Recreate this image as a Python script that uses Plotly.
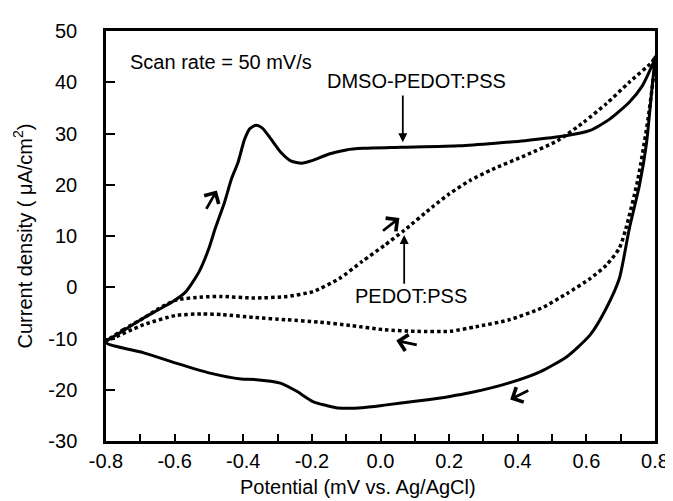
import plotly.graph_objects as go

# DMSO-PEDOT:PSS (solid) : anodic sweep then cathodic sweep
dmso_x = [-0.8, -0.75, -0.69, -0.65, -0.605, -0.567, -0.529, -0.50, -0.482, -0.455, -0.434,
          -0.415, -0.396, -0.38, -0.363, -0.345, -0.32, -0.29, -0.26, -0.23, -0.20, -0.15,
          -0.10, -0.05, 0.06, 0.231, 0.335, 0.421, 0.544, 0.611, 0.668, 0.725, 0.763, 0.796, 0.8,
          0.79, 0.775, 0.755, 0.725, 0.696, 0.658, 0.611, 0.544, 0.468, 0.373, 0.26, 0.202,
          0.107, 0.012, -0.054, -0.10, -0.13, -0.197, -0.244, -0.292, -0.368, -0.406, -0.5,
          -0.596, -0.69, -0.8]
dmso_y = [-10.8, -8.5, -6.0, -4.5, -2.8, -0.85, 3.0, 7.6, 11.4, 16.5, 21.2,
          24.4, 28.9, 31.0, 31.6, 31.1, 29.0, 26.3, 24.6, 24.2, 24.7, 26.0,
          26.8, 27.1, 27.3, 27.6, 28.1, 28.6, 29.6, 30.6, 32.8, 36.1, 39.3, 44.0, 45.0,
          38.0, 28.0, 20.0, 11.4, 1.7, -4.1, -9.3, -13.5, -16.4, -18.7, -20.6, -21.3,
          -22.2, -23.0, -23.5, -23.6, -23.5, -22.3, -20.3, -18.7, -18.0, -17.9, -16.7,
          -14.8, -12.8, -10.8]

# PEDOT:PSS (dotted)
pedot_x = [-0.8, -0.75, -0.69, -0.65, -0.596, -0.52, -0.463, -0.368, -0.273, -0.197, -0.12,
           -0.054, 0.012, 0.069, 0.15, 0.20, 0.26, 0.326, 0.421, 0.516, 0.592, 0.658, 0.725, 0.791, 0.8,
           0.78, 0.75, 0.715, 0.696, 0.658, 0.611, 0.544, 0.468, 0.373, 0.278, 0.202, 0.107,
           0.012, -0.083, -0.178, -0.273, -0.368, -0.46, -0.52, -0.596, -0.69, -0.8]
pedot_y = [-10.5, -8.3, -6.0, -4.3, -2.5, -1.9, -1.8, -2.1, -1.8, -0.85, 1.7,
           5.0, 8.2, 11.1, 15.6, 18.2, 20.8, 23.0, 25.7, 28.6, 32.2, 35.8, 40.0, 43.9, 44.8,
           33.0, 21.0, 11.4, 7.6, 4.3, 1.7, -1.2, -4.1, -6.4, -7.7, -8.6, -8.6,
           -8.3, -7.5, -6.8, -6.35, -5.9, -5.35, -5.2, -5.5, -7.3, -10.5]

x_ticks = [-0.8, -0.6, -0.4, -0.2, 0.0, 0.2, 0.4, 0.6, 0.8]
x_ticktext = ["-0.8", "-0.6", "-0.4", "-0.2", "0.0", "0.2", "0.4", "0.6", "0.8"]
y_ticks = [-30, -20, -10, 0, 10, 20, 30, 40, 50]
y_ticktext = ["-30", "-20", "-10", "0", "10", "20", "30", "40", "50"]

# direction arrows: (tip_x, tip_y, tail_x, tail_y)
dir_arrows = [(-0.477, 18.9, -0.51, 15.0),
              (0.055, 13.5, 0.003, 10.8),
              (0.046, -10.4, 0.11, -11.3),
              (0.378, -21.9, 0.435, -20.0)]
# label arrows: (tip_x, tip_y, tail_x, tail_y)
label_arrows = [(0.065, 28.3, 0.065, 37.7),
                (0.069, 10.2, 0.069, 0.4)]

FONT = "Arial, 'Liberation Sans', sans-serif"
FS = 20

fig = go.Figure()
fig.add_trace(go.Scatter(x=dmso_x, y=dmso_y, mode="lines",
                         line=dict(color="black", width=3, shape="spline", smoothing=0.6),
                         showlegend=False, hoverinfo="skip"))
fig.add_trace(go.Scatter(x=pedot_x, y=pedot_y, mode="lines",
                         line=dict(color="black", width=3.5, dash="3.5px,3px",
                                   shape="spline", smoothing=0.6),
                         showlegend=False, hoverinfo="skip"))

annotations = []
for tx, ty, sx, sy in dir_arrows:
    annotations.append(dict(x=tx, y=ty, ax=sx, ay=sy, xref="x", yref="y", axref="x", ayref="y",
                            text="", showarrow=True, arrowhead=4, arrowsize=1.15,
                            arrowwidth=2.8, arrowcolor="black", standoff=0, startstandoff=0))
for tx, ty, sx, sy in label_arrows:
    annotations.append(dict(x=tx, y=ty, ax=sx, ay=sy, xref="x", yref="y", axref="x", ayref="y",
                            text="", showarrow=True, arrowhead=2, arrowsize=1.0,
                            arrowwidth=1.8, arrowcolor="black", standoff=0, startstandoff=0))

annotations += [
    dict(x=-0.737, y=44.0, xref="x", yref="y", text="Scan rate = 50 mV/s", showarrow=False,
         xanchor="left", yanchor="middle", font=dict(size=FS, color="black", family=FONT)),
    dict(x=0.105, y=40.3, xref="x", yref="y", text="DMSO-PEDOT:PSS", showarrow=False,
         xanchor="center", yanchor="middle", font=dict(size=FS, color="black", family=FONT)),
    dict(x=0.09, y=-1.8, xref="x", yref="y", text="PEDOT:PSS", showarrow=False,
         xanchor="center", yanchor="middle", font=dict(size=FS, color="black", family=FONT)),
    dict(x=0.459, y=-0.113, xref="paper", yref="paper", text="Potential (mV vs. Ag/AgCl)",
         showarrow=False, xanchor="center", yanchor="middle",
         font=dict(size=FS, color="black", family=FONT)),
]

fig.update_layout(
    width=673, height=501,
    margin=dict(l=98, r=13, t=22, b=68),
    paper_bgcolor="white", plot_bgcolor="white",
    font=dict(family=FONT, size=FS, color="black"),
    annotations=annotations,
    xaxis=dict(range=[-0.8, 0.8], tickvals=x_ticks, ticktext=x_ticktext,
               ticks="inside", ticklen=7, tickwidth=2, tickcolor="black",
               minor=dict(dtick=0.1, tick0=-0.8, ticks="inside", ticklen=7, tickwidth=2,
                          tickcolor="black", showgrid=False),
               showline=True, linecolor="black", linewidth=2.5, mirror=True,
               showgrid=False, zeroline=False, ticklabelstandoff=0,
               tickfont=dict(size=FS, family=FONT, color="black")),
    yaxis=dict(range=[-30, 50], tickvals=y_ticks, ticktext=y_ticktext,
               ticks="inside", ticklen=9, tickwidth=2, tickcolor="black",
               showline=True, linecolor="black", linewidth=2.5, mirror=True,
               showgrid=False, zeroline=False, ticklabelstandoff=22,
               tickfont=dict(size=FS, family=FONT, color="black"),
               title=dict(text="Current density ( μA/cm<sup>2</sup>)", standoff=11,
                          font=dict(size=FS, family=FONT, color="black"))),
)

fig.write_html("out.html")
